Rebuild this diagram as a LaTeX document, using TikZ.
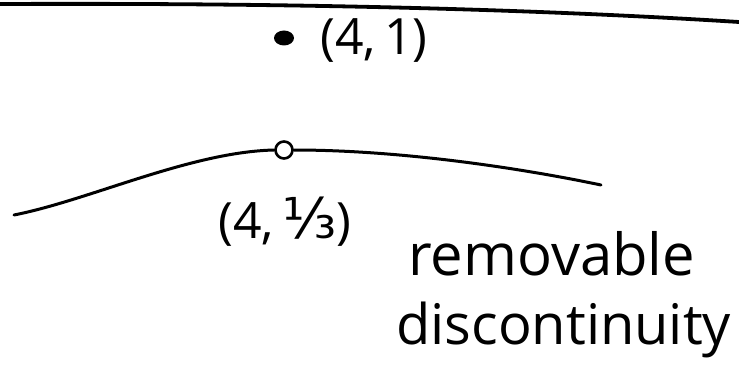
\documentclass[tikz,border=0pt]{standalone}
\usepackage{fontspec}
\usetikzlibrary{shapes.geometric}
\setmainfont{Open Sans}
\newfontfamily\djv{DejaVu Sans}
\begin{document}
\begin{tikzpicture}[x=1pt,y=-1pt,
  pen/.style={line width=3pt,line cap=round,line join=round},
  hand/.style={font=\fontsize{50}{54}\selectfont,inner sep=0pt,anchor=west}]
\useasboundingbox (0,0) rectangle (739,385);
% top line y=1
\coordinate (tl) at (0,4);
\coordinate (tr) at (739,22);
\draw[pen,line width=3.8pt] (tl) .. controls (250,3) and (500,7) .. (tr);
% filled point
\node[ellipse,fill=black,minimum width=20pt,minimum height=15pt,inner sep=0pt] (pt) at (284,38) {};
\node[hand] (lab1) at (320,41) {(4,\,1)};
% lower curve with hole
\node[circle,draw,line width=2.6pt,minimum size=17pt,inner sep=0pt] (hole) at (284,150) {};
\coordinate (cl) at (14,215);
\coordinate (cr) at (601,185);
\draw[pen] (cl) .. controls (90,200) and (190,152) .. (hole.west);
\draw[pen] (hole.east) .. controls (400,150) and (520,168) .. (cr);
\node[hand] (lab2) at (218,222) {(4,\,{\djv\fontsize{56}{56}\selectfont ⅓})};
\node[hand,font=\fontsize{58}{60}\selectfont] (rem) at (408,254) {removable};
\node[hand,font=\fontsize{56}{60}\selectfont] (dis) at (396,330) {discontinuity};
\end{tikzpicture}
\end{document}
